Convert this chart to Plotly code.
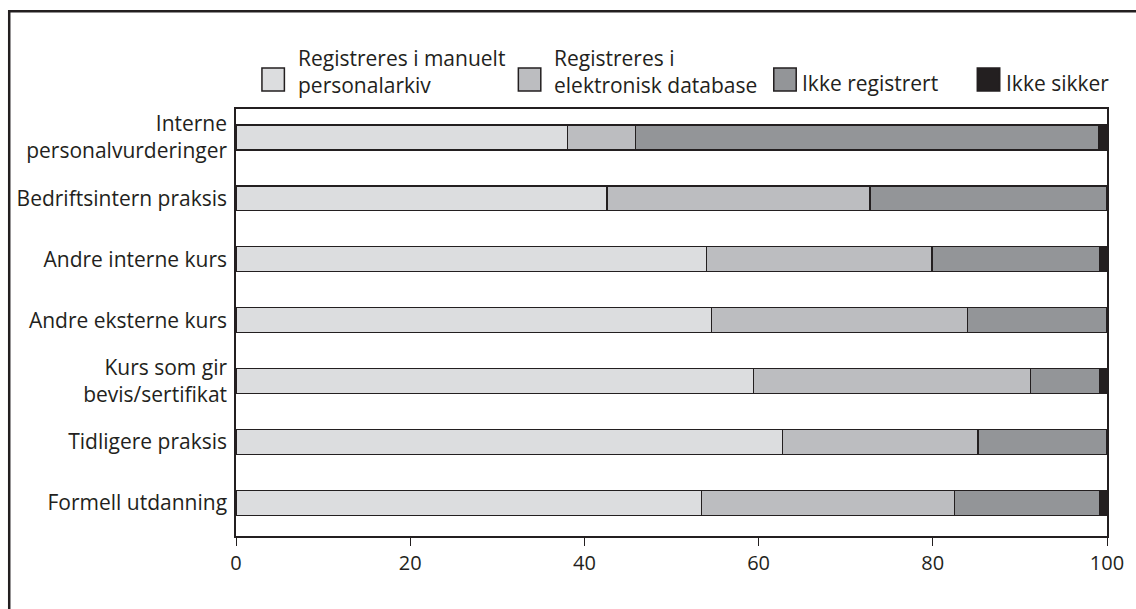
import plotly.graph_objects as go

# Categories (top to bottom) and stacked shares in percent
categories = [
    "Interne<br>personalvurderinger",
    "Bedriftsintern praksis",
    "Andre interne kurs",
    "Andre eksterne kurs",
    "Kurs som gir<br>bevis/sertifikat",
    "Tidligere praksis",
    "Formell utdanning",
]
manuelt_arkiv = [38.1, 42.6, 54.0, 54.6, 59.4, 62.7, 53.4]
elektronisk_db = [7.8, 30.2, 25.9, 29.4, 31.8, 22.5, 29.1]
ikke_registrert = [53.1, 27.2, 19.3, 16.0, 8.0, 14.8, 16.7]
ikke_sikker = [1.0, 0.0, 0.8, 0.0, 0.8, 0.0, 0.8]

series_names = [
    "Registreres i manuelt<br>personalarkiv",
    "Registreres i<br>elektronisk database",
    "Ikke registrert",
    "Ikke sikker",
]
series_values = [manuelt_arkiv, elektronisk_db, ikke_registrert, ikke_sikker]
series_colors = ["#dcdddf", "#bcbdc0", "#939598", "#231f20"]
x_ticks = [0, 20, 40, 60, 80, 100]

INK = "#231f20"
FONT = "Open Sans"
W, H = 1136, 609
L, R, T, B = 236, 27, 109, 73
PW, PH = W - L - R, H - T - B


def px_x(x):
    return (x - L) / PW


def px_y(y):
    return (H - B - y) / PH


fig = go.Figure()
for name, vals, col in zip(series_names, series_values, series_colors):
    fig.add_trace(go.Bar(
        y=categories, x=vals, orientation="h", name=name.replace("<br>", " "),
        width=0.41, marker=dict(color=col, line=dict(color=INK, width=1.2)),
        showlegend=False,
    ))

shapes = [
    # outer frame around the figure
    dict(type="rect", xref="paper", yref="paper",
         x0=px_x(8.7), x1=px_x(1150), y0=px_y(625), y1=px_y(11.2),
         line=dict(color=INK, width=2.5), fillcolor="rgba(0,0,0,0)", layer="above"),
]
annotations = []

# legend row above the plot
legend_boxes = [262, 519, 775, 979]
legend_text_x = [296, 553, 801, 1006]
for bx, tx, name, col in zip(legend_boxes, legend_text_x, series_names, series_colors):
    shapes.append(dict(type="rect", xref="paper", yref="paper",
                       x0=px_x(bx), x1=px_x(bx + 22.5), y0=px_y(91), y1=px_y(68),
                       fillcolor=col, line=dict(color=INK, width=1.5), layer="above"))
    yy = 72 if "<br>" in name else 83
    annotations.append(dict(text=name, xref="paper", yref="paper", align="left",
                            x=px_x(tx), y=px_y(yy), xanchor="left", yanchor="middle",
                            showarrow=False, font=dict(family=FONT, size=21, color=INK)))

fig.update_layout(
    width=W, height=H, autosize=False,
    margin=dict(l=L, r=R, t=T, b=B, pad=0),
    paper_bgcolor="white", plot_bgcolor="white",
    barmode="stack",
    font=dict(family=FONT, size=21, color=INK),
    shapes=shapes, annotations=annotations,
    xaxis=dict(range=[0, 100], tickvals=x_ticks, ticks="outside", ticklen=8,
               tickwidth=1.3, tickcolor=INK, showline=True, linecolor=INK,
               linewidth=1.5, mirror=True, showgrid=False, zeroline=False,
               tickfont=dict(family=FONT, size=20, color=INK)),
    yaxis=dict(type="category", categoryorder="array", categoryarray=categories,
               range=[6.544, -0.468], ticks="", showline=True, linecolor=INK,
               linewidth=1.5, mirror=True, showgrid=False, zeroline=False,
               ticklabelstandoff=3,
               tickfont=dict(family=FONT, size=21, color=INK)),
)

fig.write_html("out.html")
